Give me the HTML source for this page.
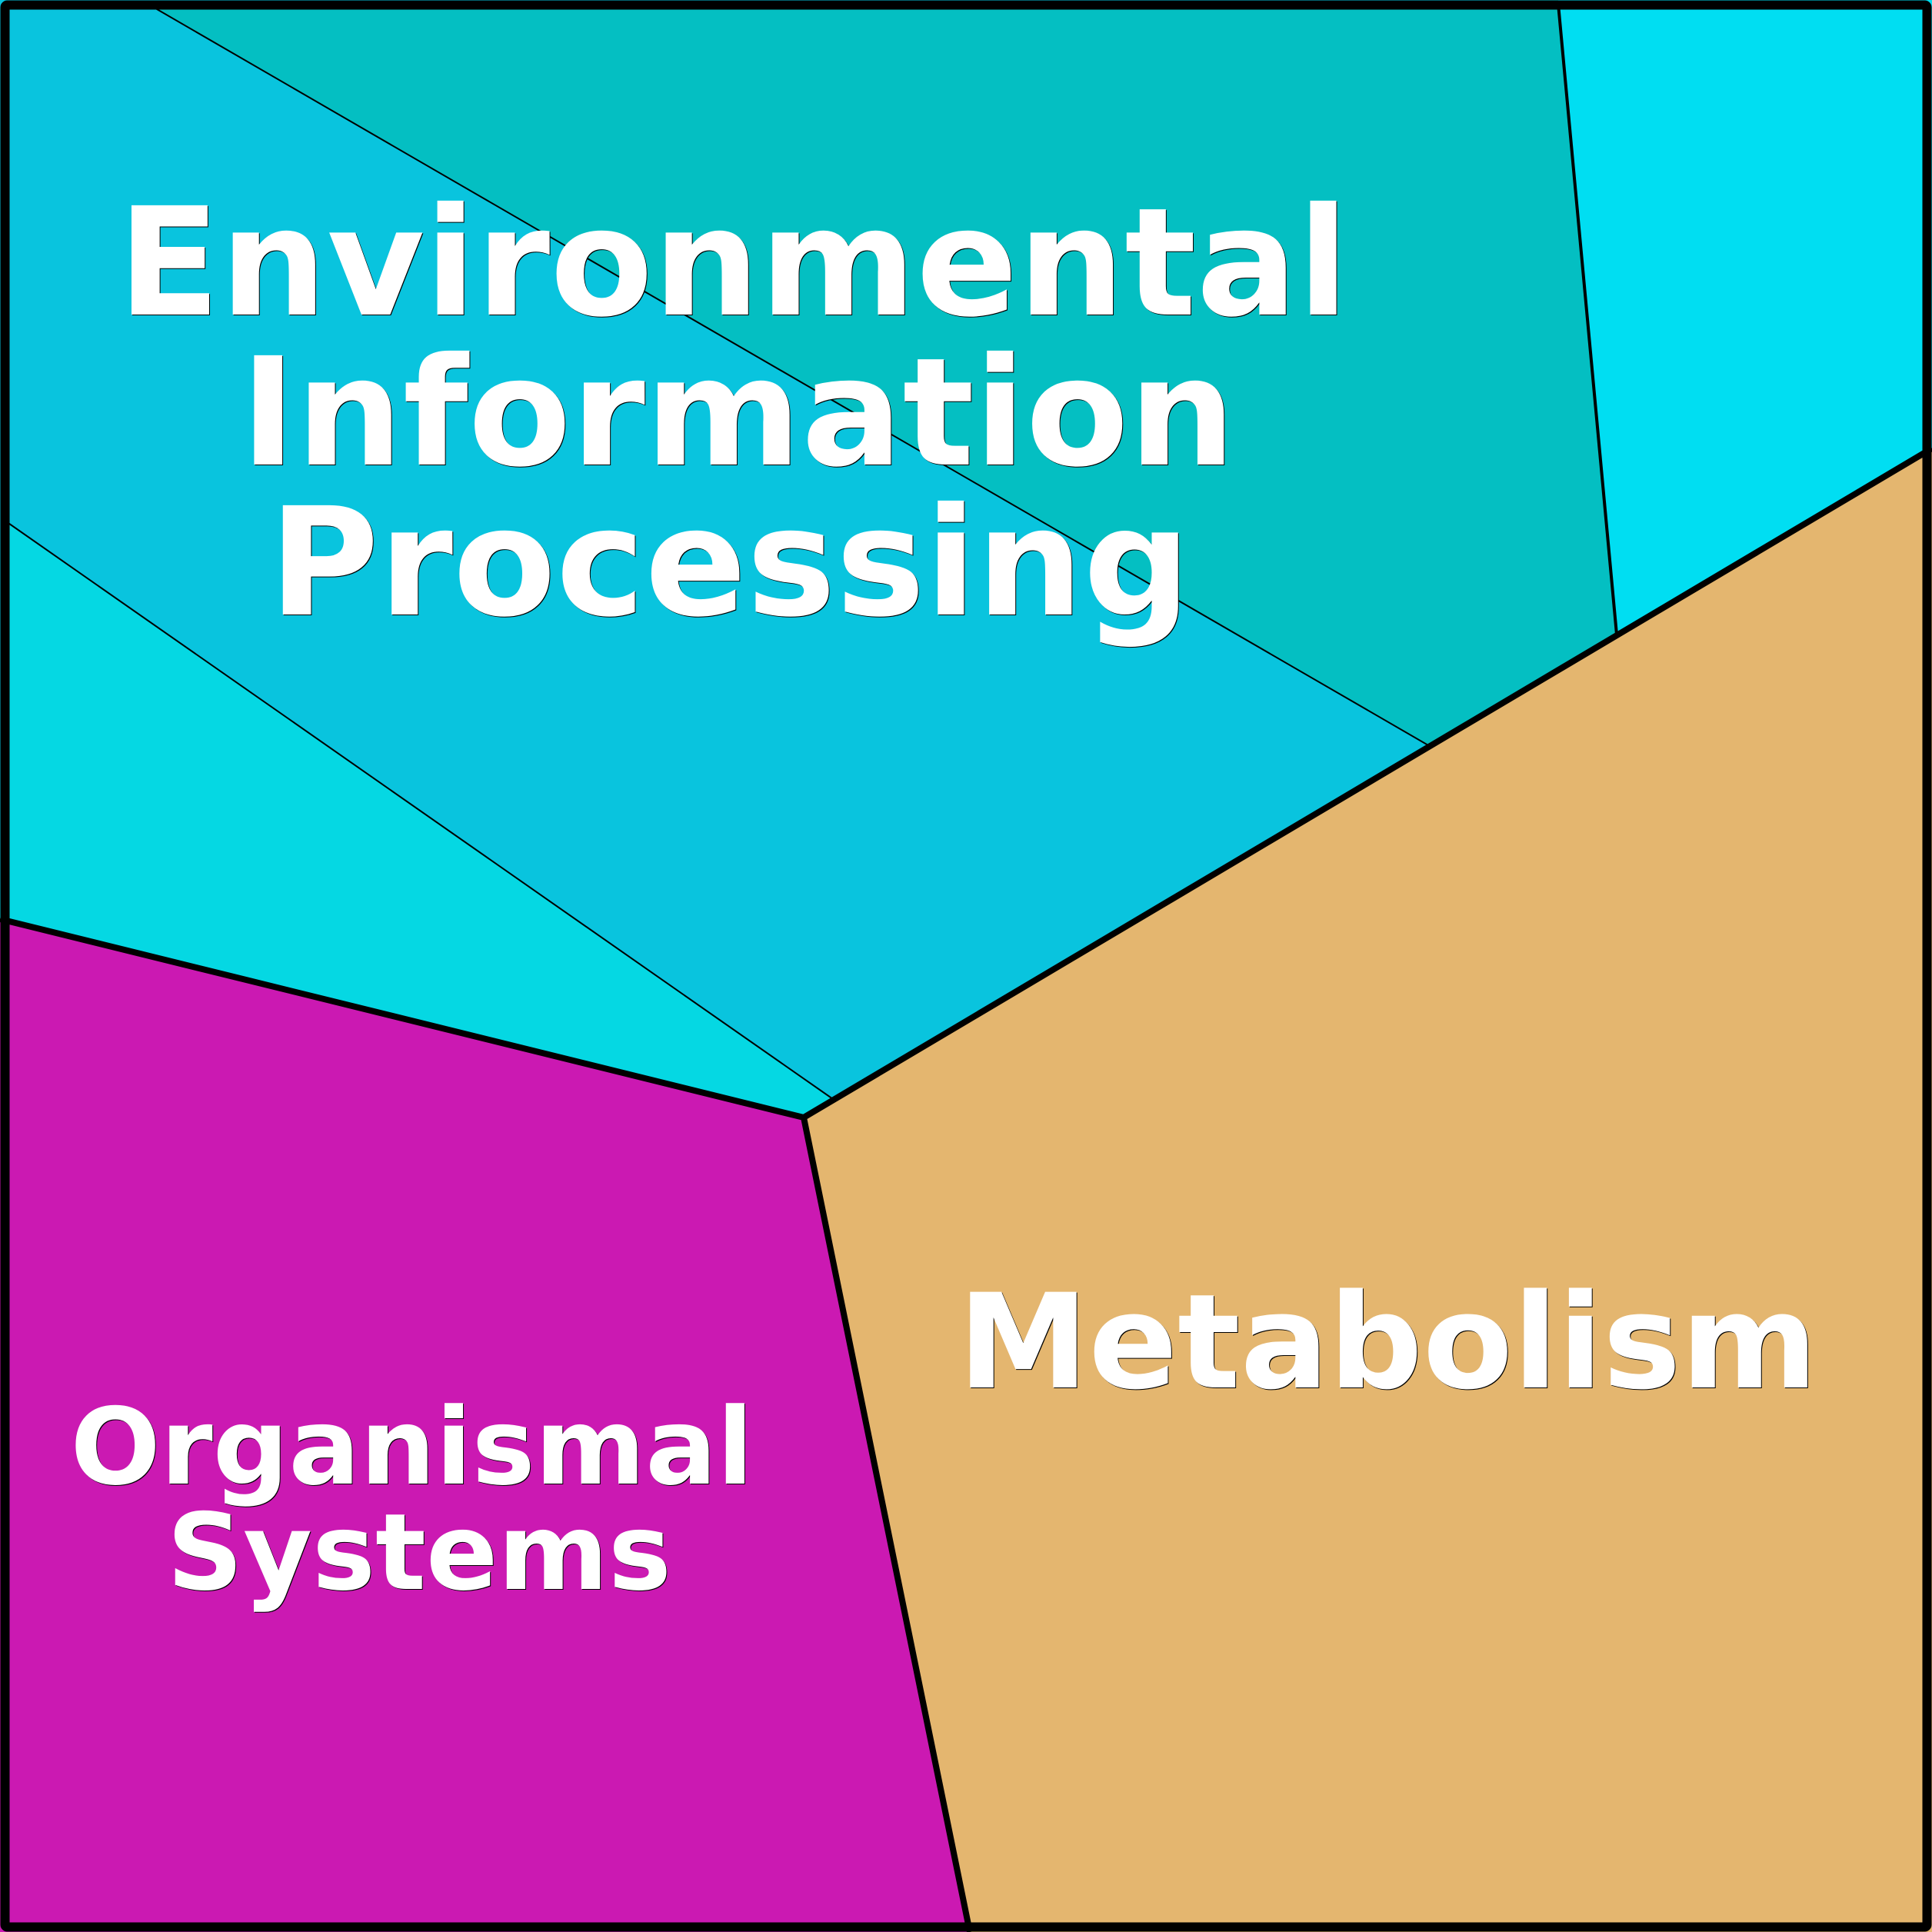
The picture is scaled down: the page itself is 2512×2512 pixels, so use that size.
<!DOCTYPE html>
<html><head><meta charset="utf-8"><style>html,body{margin:0;padding:0;background:#fff}svg{display:block}
text{font-family:"DejaVu Sans",sans-serif;font-weight:bold;text-anchor:middle}</style></head><body>
<svg width="2512" height="2512" viewBox="0 0 2512 2512" xmlns="http://www.w3.org/2000/svg">
<rect width="2512" height="2512" fill="#09C4DE"/>
<polygon points="204,12 2026,0 2102,823 1857,969" fill="#04BFC2"/>
<polygon points="2026,0 2512,0 2512,583 2102,823" fill="#00DEF2"/>
<polygon points="5,676 1083,1429 1045,1453 0,1195" fill="#05D8E3"/>
<polygon points="0,1195 1045,1453 1261,2512 0,2512" fill="#CB19B2"/>
<polygon points="1045,1453 2512,583 2512,2512 1261,2512" fill="#E4B66F"/>
<g fill="none" stroke="#000">
<path d="M198,8.5 L1857,969" stroke-width="2"/>
<path d="M5,676 L1083,1429" stroke-width="2"/>
<path d="M2026,5 L2102,825" stroke-width="4"/>
<path d="M0,1195 L1045,1453 L2512,583 M1045,1453 L1261,2512" stroke-width="8"/>
<rect x="6.5" y="6.5" width="2499" height="2499" rx="3" stroke-width="12"/>
</g>
<g fill="#000" transform="translate(1,1)">
<text x="953.5" y="409" font-size="195">Environmental</text>
<text x="959.5" y="604" font-size="195">Information</text>
<text x="949" y="799" font-size="195">Processing</text>
<text x="1804.5" y="1804" font-size="170.6">Metabolism</text>
<text x="535.5" y="1929" font-size="137.8">Organismal</text>
<text x="545" y="2066" font-size="137.8">Systems</text>
</g>
<g fill="#fff">
<text x="953.5" y="409" font-size="195">Environmental</text>
<text x="959.5" y="604" font-size="195">Information</text>
<text x="949" y="799" font-size="195">Processing</text>
<text x="1804.5" y="1804" font-size="170.6">Metabolism</text>
<text x="535.5" y="1929" font-size="137.8">Organismal</text>
<text x="545" y="2066" font-size="137.8">Systems</text>
</g>
</svg>
</body></html>
